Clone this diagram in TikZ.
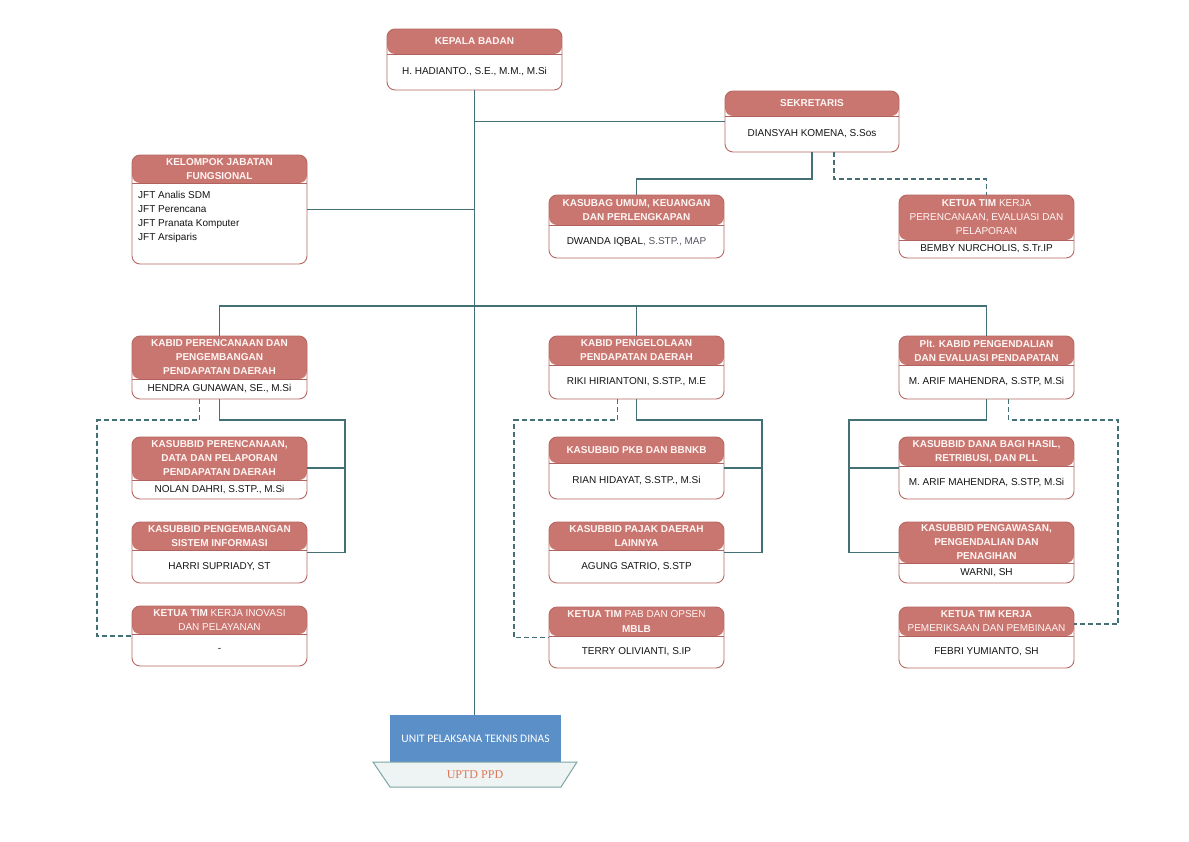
\documentclass[tikz,border=0pt]{standalone}
\usepackage{fontspec}
\setmainfont{Liberation Sans}
\newfontfamily\serfont{Liberation Serif}
\newfontfamily\carfont{Carlito}
\definecolor{headcol}{RGB}{201,117,112}
\definecolor{bordcol}{RGB}{183,104,99}
\definecolor{sepcol}{RGB}{176,98,94}
\definecolor{linecol}{RGB}{66,112,116}
\definecolor{bodytxt}{RGB}{20,20,20}
\definecolor{greytxt}{RGB}{85,85,100}
\definecolor{uptblue}{RGB}{91,143,200}
\definecolor{trapfill}{RGB}{238,243,243}
\definecolor{trapline}{RGB}{125,165,165}
\definecolor{uptdtxt}{RGB}{224,120,90}
\definecolor{headtxt}{RGB}{255,246,244}
\tikzset{
 obox/.style={draw=bordcol, line width=0.9pt, fill=white, rounded corners=8pt, inner sep=0pt, outer sep=0pt,
   path picture={\fill[headcol] (path picture bounding box.north west) rectangle ([yshift=-\obH pt]path picture bounding box.north east);
     \draw[sepcol, line width=0.8pt] ([yshift=-\obH pt]path picture bounding box.north west) -- ([yshift=-\obH pt]path picture bounding box.north east);}},
 htext/.style={inner sep=0pt, align=center, text=headtxt, font=\bfseries\fontsize{10}{14}\selectfont},
 btext/.style={inner sep=0pt, align=center, text=bodytxt, font=\fontsize{10}{14}\selectfont},
 conn/.style={draw=linecol, line width=1.2pt},
 dconn/.style={conn, dash pattern=on 5pt off 3pt},
}
\newcommand\orgbox[8]{%
 \pgfmathsetmacro\obW{#4-#2}\pgfmathsetmacro\obHt{#5-#3}\pgfmathsetmacro\obH{#6-#3}%
 \pgfmathsetmacro\obX{(#2+#4)/2}\pgfmathsetmacro\obY{(#3+#5)/2}%
 \pgfmathsetmacro\obHY{(#3+#6)/2}\pgfmathsetmacro\obBY{(#6+#5)/2}%
 \node[obox, minimum width=\obW pt, minimum height=\obHt pt] (#1) at (\obX,\obY) {};
 \node[htext] (#1-h) at (\obX,\obHY) {#7};
 \node[btext] (#1-b) at (\obX,\obBY) {#8};
}
\begin{document}
\begin{tikzpicture}[x=1pt,y=-1pt]
\fill[white] (0,0) rectangle (1189,841);
\path[use as bounding box] (0,0) rectangle (1189,841);

\orgbox{kb}{387}{29}{562}{90}{54}{KEPALA BADAN}{H. HADIANTO., S.E., M.M., M.Si}
\orgbox{sek}{725}{91}{899}{152}{116}{SEKRETARIS}{DIANSYAH KOMENA, S.Sos}
\orgbox{jft}{132}{155}{307}{264}{183}{KELOMPOK JABATAN\\FUNGSIONAL}{}
\node[btext, align=left, anchor=west] (jft-l) at (138,217) {JFT Analis SDM\\JFT Perencana\\JFT Pranata Komputer\\JFT Arsiparis};
\orgbox{ksb}{549}{195}{724}{258}{225}{KASUBAG UMUM, KEUANGAN\\DAN PERLENGKAPAN}{DWANDA IQBAL\textcolor{greytxt}{, S.STP., MAP}}
\orgbox{kt1}{899}{195}{1074}{258}{240}{KETUA TIM \textmd{KERJA}\\\textmd{PERENCANAAN, EVALUASI DAN}\\\textmd{PELAPORAN}}{BEMBY NURCHOLIS, S.Tr.IP}

\orgbox{kbid1}{132}{336}{307}{399}{379}{KABID PERENCANAAN DAN\\PENGEMBANGAN\\PENDAPATAN DAERAH}{HENDRA GUNAWAN, SE., M.Si}
\orgbox{ks11}{132}{437}{307}{499}{480}{KASUBBID PERENCANAAN,\\DATA DAN PELAPORAN\\PENDAPATAN DAERAH}{NOLAN DAHRI, S.STP., M.Si}
\orgbox{ks12}{132}{522}{307}{583}{550}{KASUBBID PENGEMBANGAN\\SISTEM INFORMASI}{HARRI SUPRIADY, ST}
\orgbox{kt11}{132}{606}{307}{666}{634}{KETUA TIM \textmd{KERJA INOVASI}\\\textmd{DAN PELAYANAN}}{-}

\orgbox{kbid2}{549}{336}{724}{399}{365}{KABID PENGELOLAAN\\PENDAPATAN DAERAH}{RIKI HIRIANTONI, S.STP., M.E}
\orgbox{ks21}{549}{437}{724}{499}{463}{KASUBBID PKB DAN BBNKB}{RIAN HIDAYAT, S.STP., M.Si}
\orgbox{ks22}{549}{522}{724}{583}{550}{KASUBBID PAJAK DAERAH\\LAINNYA}{AGUNG SATRIO, S.STP}
\orgbox{kt21}{549}{607}{724}{668}{636}{KETUA TIM \textmd{PAB DAN OPSEN}\\MBLB}{TERRY OLIVIANTI, S.IP}

\orgbox{kbid3}{899}{336}{1074}{399}{365}{Plt. KABID PENGENDALIAN\\DAN EVALUASI PENDAPATAN}{M. ARIF MAHENDRA, S.STP, M.Si}
\orgbox{ks31}{899}{437}{1074}{499}{466}{KASUBBID DANA BAGI HASIL,\\RETRIBUSI, DAN PLL}{M. ARIF MAHENDRA, S.STP, M.Si}
\orgbox{ks32}{899}{522}{1074}{583}{563}{KASUBBID PENGAWASAN,\\PENGENDALIAN DAN\\PENAGIHAN}{WARNI, SH}
\orgbox{kt31}{899}{607}{1074}{668}{636}{KETUA TIM KERJA\\\textmd{PEMERIKSAAN DAN PEMBINAAN}}{FEBRI YUMIANTO, SH}

% UPT
\node[fill=uptblue, minimum width=171pt, minimum height=47pt, inner sep=0pt, text=white, font=\carfont\fontsize{11.5}{13}\selectfont] (upt) at (475.5,738.5) {UNIT PELAKSANA TEKNIS DINAS};
\draw[fill=trapfill, draw=trapline, line width=1pt] (373,762) -- (577,762) -- (561,787) -- (390,787) -- cycle;
\node[text=uptdtxt, font=\serfont\fontsize{12}{14}\selectfont, inner sep=0pt] (uptd) at (475,775) {UPTD PPD};

% connectors
\draw[conn] (kb.south) -- (kb.south |- upt.north);
\draw[conn] (sek.west) -- (sek.west -| kb.south);
\draw[conn] (jft.east) -- (jft.east -| kb.south);
\draw[conn] (sek.south) -- ++(0,27) -| (ksb.north);
\draw[dconn] ([xshift=22pt]sek.south) -- ++(0,27) -| (kt1.north);
\draw[conn] (kbid1.north) -- ++(0,-30) -| (kbid3.north);
\draw[conn] (kbid2.north) -- ++(0,-30);

\coordinate (L1) at (345,420); \coordinate (D1) at (97,420);
\draw[conn] (kbid1.south) |- (L1) |- (ks12.east);
\draw[conn] (ks11.east) -- (ks11.east -| L1);
\draw[dconn] ([xshift=-20pt]kbid1.south) |- (D1) |- (kt11.west);

\coordinate (M1) at (762,420); \coordinate (E1) at (514,420);
\draw[conn] (kbid2.south) |- (M1) |- (ks22.east);
\draw[conn] (ks21.east) -- (ks21.east -| M1);
\draw[dconn] ([xshift=-19pt]kbid2.south) |- (E1) |- (kt21.west);

\coordinate (R1) at (849,420); \coordinate (F1) at (1118,420);
\draw[conn] (kbid3.south) |- (R1) |- (ks32.west);
\draw[conn] (ks31.west) -- (ks31.west -| R1);
\draw[dconn] ([xshift=22pt]kbid3.south) |- (F1) |- ([yshift=13.5pt]kt31.east);
\end{tikzpicture}
\end{document}
